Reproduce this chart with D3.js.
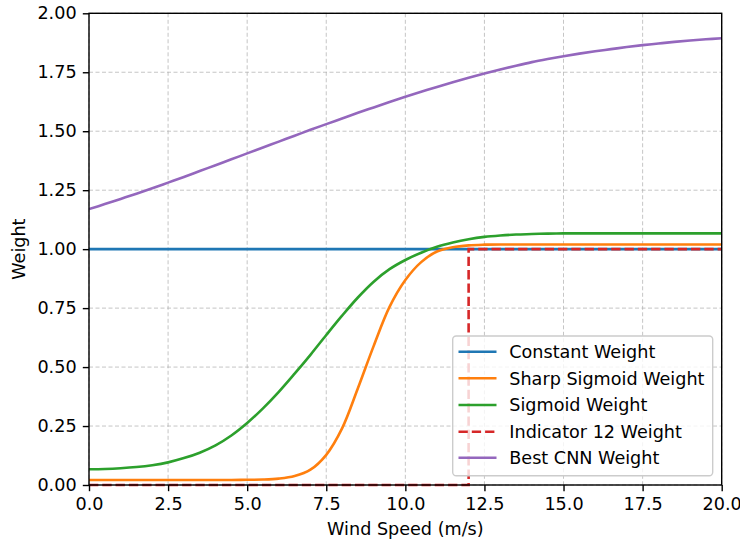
<!DOCTYPE html>
<html>
<head>
<meta charset="utf-8">
<script src="https://cdn.jsdelivr.net/npm/d3@7"></script>
<style>
  html, body { margin: 0; padding: 0; background: #fff; }
  svg { display: block; font-family: "DejaVu Sans", sans-serif; }
</style>
</head>
<body>
<svg id="chart" width="740" height="539"></svg>
<script>
// ---- Data ----
const windSpeed = [0,0.5,1,1.5,2,2.5,3,3.5,4,4.5,5,5.5,6,6.5,7,7.5,8,8.5,9,9.5,10,
                   10.5,11,11.5,12,12.5,13,13.5,14,14.5,15,15.5,16,16.5,17,17.5,18,18.5,19,19.5,20];
const constantWeight = [1,1,1,1,1,1,1,1,1,1,1,1,1,1,1,1,1,1,1,1,1,
                        1,1,1,1,1,1,1,1,1,1,1,1,1,1,1,1,1,1,1,1];
const sharpSigmoidWeight = [0.021,0.021,0.021,0.021,0.021,0.021,0.021,0.021,0.021,0.021,0.022,0.023,0.027,0.038,0.065,0.128,0.24,0.41,0.59,0.755,0.869,
                            0.945,0.990,1.008,1.016,1.019,1.020,1.020,1.020,1.020,1.020,1.020,1.020,1.020,1.020,1.020,1.020,1.020,1.020,1.020,1.020];
const sigmoidWeight = [0.067,0.068,0.071,0.076,0.084,0.096,0.114,0.137,0.168,0.210,0.263,0.325,0.395,0.472,0.552,0.636,0.718,0.795,0.862,0.915,0.954,
                       0.985,1.010,1.028,1.042,1.052,1.058,1.062,1.064,1.066,1.067,1.067,1.067,1.067,1.067,1.067,1.067,1.067,1.067,1.067,1.067];
const indicatorX = [0, 12, 12, 20];
const indicatorWeight = [0, 0, 1, 1];
const bestCnnWeight = [1.170,1.191,1.213,1.235,1.258,1.282,1.306,1.331,1.356,1.381,1.406,1.431,1.456,1.481,1.506,1.530,1.554,1.578,1.601,1.624,1.646,
                       1.667,1.688,1.708,1.727,1.745,1.762,1.778,1.793,1.806,1.818,1.829,1.839,1.848,1.857,1.865,1.872,1.879,1.885,1.890,1.894];
const xTicks = [0, 2.5, 5, 7.5, 10, 12.5, 15, 17.5, 20];
const yTicks = [0, 0.25, 0.5, 0.75, 1.0, 1.25, 1.5, 1.75, 2.0];
const seriesNames = ["Constant Weight", "Sharp Sigmoid Weight", "Sigmoid Weight", "Indicator 12 Weight", "Best CNN Weight"];
const seriesColors = ["#1f77b4", "#ff7f0e", "#2ca02c", "#d62728", "#9467bd"];

// ---- Layout ----
const L = 89, R = 721.7, T = 13.3, B = 485;
const FS = 17.6;
const svg = d3.select("#chart");
const x = d3.scaleLinear().domain([0, 20]).range([L, R]);
const y = d3.scaleLinear().domain([0, 2]).range([B, T]);

const clipId = "plotclip";
svg.append("defs").append("clipPath").attr("id", clipId)
  .append("rect").attr("x", L).attr("y", T - 2).attr("width", R - L).attr("height", B - T + 4);

// grid
const grid = svg.append("g");
grid.selectAll("line.gx").data(xTicks).join("line")
  .attr("x1", d => x(d)).attr("x2", d => x(d)).attr("y1", T).attr("y2", B)
  .attr("stroke", "#b0b0b0").attr("stroke-width", 0.9).attr("stroke-dasharray", "4,2.5").attr("opacity", 0.8);
grid.selectAll("line.gy").data(yTicks).join("line")
  .attr("x1", L).attr("x2", R).attr("y1", d => y(d)).attr("y2", d => y(d))
  .attr("stroke", "#b0b0b0").attr("stroke-width", 0.9).attr("stroke-dasharray", "4,2.5").attr("opacity", 0.8);

// lines
const line = d3.line().x(d => x(d[0])).y(d => y(d[1])).curve(d3.curveCatmullRom.alpha(0.5));
const lineLinear = d3.line().x(d => x(d[0])).y(d => y(d[1]));
const plot = svg.append("g").attr("clip-path", `url(#${clipId})`);
const seriesData = [
  windSpeed.map((w, i) => [w, constantWeight[i]]),
  windSpeed.map((w, i) => [w, sharpSigmoidWeight[i]]),
  windSpeed.map((w, i) => [w, sigmoidWeight[i]]),
  indicatorX.map((w, i) => [w, indicatorWeight[i]]),
  windSpeed.map((w, i) => [w, bestCnnWeight[i]])
];
seriesData.forEach((d, i) => {
  plot.append("path").datum(d)
    .attr("d", i === 3 ? lineLinear : line)
    .attr("fill", "none")
    .attr("stroke", seriesColors[i])
    .attr("stroke-width", 2.6)
    .attr("stroke-dasharray", i === 3 ? "9.3,4" : null);
});

// spines
svg.append("rect").attr("x", L).attr("y", T).attr("width", R - L).attr("height", B - T)
  .attr("fill", "none").attr("stroke", "#000").attr("stroke-width", 1.4);

// axes
const xAxis = d3.axisBottom(x).tickValues(xTicks).tickFormat(d3.format(".1f")).tickSize(6.2).tickPadding(6.2);
const yAxis = d3.axisLeft(y).tickValues(yTicks).tickFormat(d3.format(".2f")).tickSize(6.2).tickPadding(6.2);
const gx = svg.append("g").attr("transform", `translate(0,${B})`).call(xAxis);
const gy = svg.append("g").attr("transform", `translate(${L},0)`).call(yAxis);
[gx, gy].forEach(g => {
  g.select(".domain").remove();
  g.selectAll(".tick line").attr("stroke", "#000").attr("stroke-width", 1.4);
  g.selectAll(".tick text").attr("fill", "#000").attr("font-size", FS).attr("font-family", "DejaVu Sans");
});

// axis labels
svg.append("text").attr("x", (L + R) / 2).attr("y", 535).attr("text-anchor", "middle")
  .attr("font-size", FS).attr("fill", "#000").text("Wind Speed (m/s)");
svg.append("text").attr("transform", `translate(25,${(T + B) / 2}) rotate(-90)`).attr("text-anchor", "middle")
  .attr("font-size", FS).attr("fill", "#000").text("Weight");

// legend
const lg = svg.append("g");
lg.append("rect").attr("x", 452.7).attr("y", 336).attr("width", 260).attr("height", 139.7)
  .attr("rx", 3.5).attr("fill", "#fff").attr("fill-opacity", 0.8).attr("stroke", "#cccccc").attr("stroke-width", 1.4);
const rowY = [351.7, 378.3, 405, 431.7, 457.7];
seriesNames.forEach((name, i) => {
  lg.append("line").attr("x1", 458.5).attr("x2", 496.5).attr("y1", rowY[i]).attr("y2", rowY[i])
    .attr("stroke", seriesColors[i]).attr("stroke-width", 2.6)
    .attr("stroke-dasharray", i === 3 ? "9.3,4" : null);
  lg.append("text").attr("x", 509.3).attr("y", rowY[i]).attr("dy", "0.36em")
    .attr("font-size", FS).attr("fill", "#000").text(name);
});
</script>
</body>
</html>
